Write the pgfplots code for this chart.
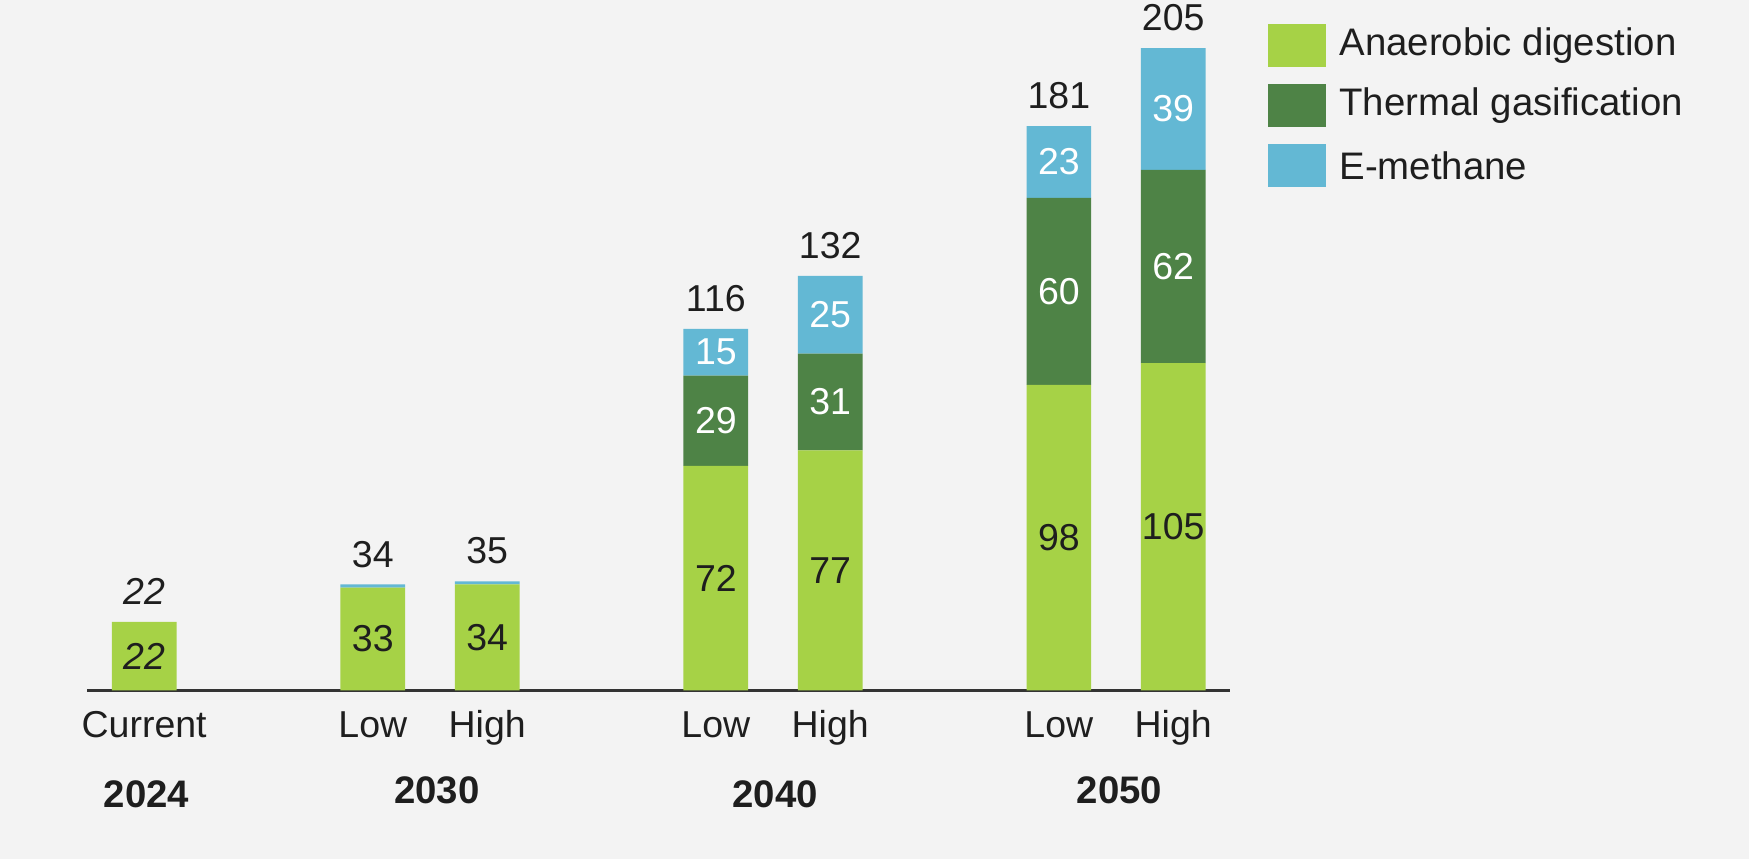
\documentclass[border=0pt]{standalone}
\usepackage{pgfplots}
\pgfplotsset{compat=1.18}
\usepackage{fontspec}
\setmainfont{Liberation Sans}

\definecolor{bgc}{RGB}{243,243,243}
\definecolor{cAD}{RGB}{166,210,70}
\definecolor{cTG}{RGB}{78,131,70}
\definecolor{cEM}{RGB}{99,184,212}
\definecolor{txt}{RGB}{30,30,30}

\pgfplotstableread{
x  ad  tg  em
0  22  0   0
2  33  0   1
3  34  0   1
5  72  29  15
6  77  31  25
8  98  60  23
9  105 62  39
}\biodata

\newcommand{\lf}{\fontsize{8.4}{10}\selectfont}

\begin{document}
\begin{tikzpicture}[font=\lf, text=txt]
% background (axis box south west corner sits at the origin)
\fill[bgc] (-19.5pt,-37.75pt) rectangle (372.5pt,154.75pt);
\begin{axis}[
  x=25.625pt, y=0.69875pt,
  xmin=-0.5, xmax=9.5, ymin=0, ymax=221,
  hide axis, clip=false,
  ybar stacked, bar width=14.5pt,
]
\addplot[fill=cAD, draw=none] table[x=x, y=ad] {\biodata};
\addplot[fill=cTG, draw=none] table[x=x, y=tg] {\biodata};
\addplot[fill=cEM, draw=none] table[x=x, y=em] {\biodata};

\draw[line width=0.75pt, black!80] (axis cs:-0.5,0) -- (axis cs:9.5,0);

% anchor points for the values inside the segments
\coordinate (s1) at (axis cs:0,11);
\coordinate (s2) at (axis cs:2,16.5);
\coordinate (s3) at (axis cs:3,17);
\coordinate (s4) at (axis cs:5,36);
\coordinate (s5) at (axis cs:5,86.5);
\coordinate (s6) at (axis cs:5,108.5);
\coordinate (s7) at (axis cs:6,38.5);
\coordinate (s8) at (axis cs:6,92.5);
\coordinate (s9) at (axis cs:6,120.5);
\coordinate (s10) at (axis cs:8,49);
\coordinate (s11) at (axis cs:8,128);
\coordinate (s12) at (axis cs:8,169.5);
\coordinate (s13) at (axis cs:9,52.5);
\coordinate (s14) at (axis cs:9,136);
\coordinate (s15) at (axis cs:9,186.5);

% totals
\node[anchor=base, yshift=3.9pt, inner sep=0pt, font=\lf\itshape] at (axis cs:0,22) {22};
\node[anchor=base, yshift=3.9pt, inner sep=0pt] at (axis cs:2,34) {34};
\node[anchor=base, yshift=3.9pt, inner sep=0pt] at (axis cs:3,35) {35};
\node[anchor=base, yshift=3.9pt, inner sep=0pt] at (axis cs:5,116) {116};
\node[anchor=base, yshift=3.9pt, inner sep=0pt] at (axis cs:6,133) {132};
\node[anchor=base, yshift=3.9pt, inner sep=0pt] at (axis cs:8,181) {181};
\node[anchor=base, yshift=3.9pt, inner sep=0pt] at (axis cs:9,206) {205};

% category labels
\node[anchor=base, yshift=-10.5pt, inner sep=0pt] at (axis cs:0,0) {Current};
\node[anchor=base, yshift=-10.5pt, inner sep=0pt] at (axis cs:2,0) {Low};
\node[anchor=base, yshift=-10.5pt, inner sep=0pt] at (axis cs:3,0) {High};
\node[anchor=base, yshift=-10.5pt, inner sep=0pt] at (axis cs:5,0) {Low};
\node[anchor=base, yshift=-10.5pt, inner sep=0pt] at (axis cs:6,0) {High};
\node[anchor=base, yshift=-10.5pt, inner sep=0pt] at (axis cs:8,0) {Low};
\node[anchor=base, yshift=-10.5pt, inner sep=0pt] at (axis cs:9,0) {High};
\node[anchor=base, yshift=-26.25pt, inner sep=0pt, font=\bfseries\fontsize{8.6}{10}\selectfont] at (axis cs:0.02,0) {2024};
\node[anchor=base, yshift=-25.25pt, inner sep=0pt, font=\bfseries\fontsize{8.6}{10}\selectfont] at (axis cs:2.56,0) {2030};
\node[anchor=base, yshift=-26.25pt, inner sep=0pt, font=\bfseries\fontsize{8.6}{10}\selectfont] at (axis cs:5.52,0) {2040};
\node[anchor=base, yshift=-25.25pt, inner sep=0pt, font=\bfseries\fontsize{8.6}{10}\selectfont] at (axis cs:8.53,0) {2050};
\end{axis}

% values inside the segments (drawn over the bars)
\node[font=\lf\itshape] at (s1) {22};
\node at (s2) {33};
\node at (s3) {34};
\node at (s4) {72};
\node[text=white] at (s5) {29};
\node[text=white] at (s6) {15};
\node at (s7) {77};
\node[text=white] at (s8) {31};
\node[text=white] at (s9) {25};
\node at (s10) {98};
\node[text=white] at (s11) {60};
\node[text=white] at (s12) {23};
\node at (s13) {105};
\node[text=white] at (s14) {62};
\node[text=white] at (s15) {39};

% legend
\fill[cAD] (264.75pt,139.75pt) rectangle (277.75pt,149.35pt);
\fill[cTG] (264.75pt,126.3pt) rectangle (277.75pt,135.9pt);
\fill[cEM] (264.75pt,112.85pt) rectangle (277.75pt,122.45pt);
\node[anchor=west, inner sep=0pt, font=\fontsize{8.6}{10}\selectfont] at (280.5pt,144.55pt) {Anaerobic digestion};
\node[anchor=west, inner sep=0pt, font=\fontsize{8.6}{10}\selectfont] at (280.5pt,131.1pt) {Thermal gasification};
\node[anchor=west, inner sep=0pt, font=\fontsize{8.6}{10}\selectfont] at (280.5pt,117.65pt) {E-methane};

\pgfresetboundingbox
\path[use as bounding box] (-19.5pt,-37.75pt) rectangle (372.5pt,154.75pt);
\end{tikzpicture}
\end{document}
